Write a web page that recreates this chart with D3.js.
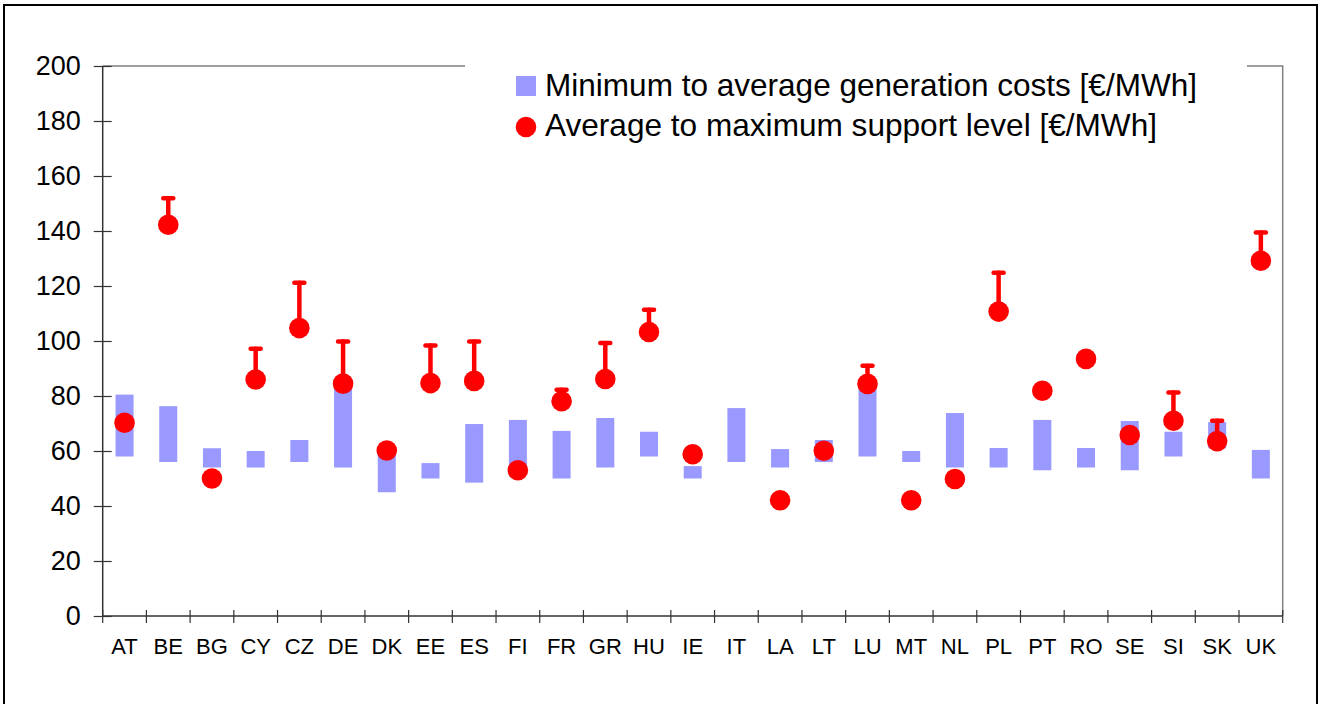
<!DOCTYPE html>
<html>
<head>
<meta charset="utf-8">
<script src="https://cdn.jsdelivr.net/npm/d3@7"></script>
<style>
  html, body { margin: 0; padding: 0; background: #fff; }
  svg text { font-family: "Liberation Sans", Arial, sans-serif; fill: #000; }
</style>
</head>
<body>
<script>
// Data
const categories = ['AT', 'BE', 'BG', 'CY', 'CZ', 'DE', 'DK', 'EE', 'ES', 'FI', 'FR', 'GR', 'HU', 'IE',
  'IT', 'LA', 'LT', 'LU', 'MT', 'NL', 'PL', 'PT', 'RO', 'SE', 'SI', 'SK', 'UK'];

// Minimum to average generation costs [€/MWh]
const costMin = [58, 56, 54, 54, 56, 54, 45, 50, 48.5, 54, 50, 54, 58, 50,
  56, 54, 56, 58, 56, 54, 54, 53, 54, 53, 58, 61, 50];
const costAvg = [80.5, 76.3, 61, 60, 64, 83.5, 59, 55.6, 69.8, 71.3, 67.3, 72, 67, 54.5,
  75.6, 60.7, 64, 83, 60, 73.8, 61.1, 71.3, 61.1, 70.9, 67, 70.5, 60.4];

// Average to maximum support level [€/MWh]
const supportAvg = [70.3, 142.3, 50, 86, 104.7, 84.5, 60.2, 84.7, 85.5, 53, 78.1, 86.2, 103.3, 58.8,
  null, 42.1, 60.1, 84.4, 42.1, 49.8, 110.7, 81.9, 93.5, 65.8, 71, 63.6, 129.2];
const supportMax = [null, 151.9, null, 97.2, 121.2, 99.8, null, 98.4, 99.8, null, 82.3, 99.3, 111.4, null,
  null, null, null, 91, null, null, 124.8, null, null, null, 81.3, 71, 139.5];

const yTicks = [0, 20, 40, 60, 80, 100, 120, 140, 160, 180, 200];
const legendLabels = ['Minimum to average generation costs [€/MWh]', 'Average to maximum support level [€/MWh]'];

const barColor = '#9999ff';
const dotColor = '#ff0000';

const width = 1320, height = 704;
const plot = { left: 102.7, right: 1282.7, top: 66, bottom: 616 };

const svg = d3.select('body')
  .append('svg')
  .attr('width', width)
  .attr('height', height);

// outer frame
svg.append('rect')
  .attr('x', 4).attr('y', 5)
  .attr('width', 1313).attr('height', 720)
  .attr('fill', '#fff')
  .attr('stroke', '#000')
  .attr('stroke-width', 2);

const x = d3.scaleBand()
  .domain(categories)
  .range([plot.left, plot.right])
  .padding(0);

const y = d3.scaleLinear()
  .domain([0, 200])
  .range([plot.bottom, plot.top]);

const rows = categories.map((c, i) => ({
  cat: c, lo: costMin[i], hi: costAvg[i], avg: supportAvg[i], max: supportMax[i]
}));

// top and right plot border
svg.append('path')
  .attr('d', `M${plot.left},${plot.top}H${plot.right}V${plot.bottom}`)
  .attr('fill', 'none')
  .attr('stroke', '#808080')
  .attr('stroke-width', 1.5);

// cost range bars
const barW = 18;
svg.append('g')
  .selectAll('rect')
  .data(rows)
  .join('rect')
  .attr('x', d => x(d.cat) + x.bandwidth() / 2 - barW / 2)
  .attr('y', d => y(d.hi))
  .attr('width', barW)
  .attr('height', d => y(d.lo) - y(d.hi))
  .attr('fill', barColor);

// support level error bars
const withMax = rows.filter(d => d.max != null && d.avg != null);
const err = svg.append('g')
  .attr('stroke', dotColor)
  .attr('stroke-width', 4.5)
  .attr('stroke-linecap', 'round');

err.selectAll('line.stem')
  .data(withMax)
  .join('line')
  .attr('class', 'stem')
  .attr('x1', d => x(d.cat) + x.bandwidth() / 2)
  .attr('x2', d => x(d.cat) + x.bandwidth() / 2)
  .attr('y1', d => y(d.avg))
  .attr('y2', d => y(d.max));

err.selectAll('line.cap')
  .data(withMax)
  .join('line')
  .attr('class', 'cap')
  .attr('x1', d => x(d.cat) + x.bandwidth() / 2 - 5)
  .attr('x2', d => x(d.cat) + x.bandwidth() / 2 + 5)
  .attr('y1', d => y(d.max))
  .attr('y2', d => y(d.max));

// support average dots
svg.append('g')
  .selectAll('circle')
  .data(rows.filter(d => d.avg != null))
  .join('circle')
  .attr('cx', d => x(d.cat) + x.bandwidth() / 2)
  .attr('cy', d => y(d.avg))
  .attr('r', 10.3)
  .attr('fill', dotColor);

// y axis with crossing ticks
const yAxis = svg.append('g')
  .attr('transform', `translate(${plot.left},0)`)
  .call(d3.axisLeft(y).tickValues(yTicks).tickSize(9).tickPadding(13));
yAxis.select('.domain').attr('stroke', '#333').attr('stroke-width', 1.5)
  .attr('d', `M0,${plot.top}V${plot.bottom}`);
yAxis.selectAll('.tick line').attr('x1', 9).attr('stroke', '#333').attr('stroke-width', 1.2);
yAxis.selectAll('.tick text')
  .style('font-size', '27px')
  .style('font-family', '"Liberation Sans", Arial, sans-serif');

// x axis: labels at band centres, crossing ticks at band edges
const xAxis = svg.append('g')
  .attr('transform', `translate(0,${plot.bottom})`)
  .call(d3.axisBottom(x).tickSize(0).tickPadding(22));
xAxis.select('.domain').attr('stroke', '#333').attr('stroke-width', 1.5)
  .attr('d', `M${plot.left},0H${plot.right}`);
xAxis.selectAll('.tick text')
  .style('font-size', '22px')
  .style('font-family', '"Liberation Sans", Arial, sans-serif');

const edges = categories.map(c => x(c)).concat([x.range()[1]]);
xAxis.append('g')
  .selectAll('line')
  .data(edges)
  .join('line')
  .attr('x1', d => d).attr('x2', d => d)
  .attr('y1', -6).attr('y2', 7)
  .attr('stroke', '#333')
  .attr('stroke-width', 1.2);

// legend (white box hides the top border behind it)
const legend = svg.append('g');
legend.append('rect')
  .attr('x', 465).attr('y', 55)
  .attr('width', 782).attr('height', 95)
  .attr('fill', '#fff');

const legendRows = [
  { label: legendLabels[0], len: 652, cy: 86, base: 96 },
  { label: legendLabels[1], len: 612, cy: 127, base: 136 }
];

legend.append('rect')
  .attr('x', 516).attr('y', legendRows[0].cy - 10)
  .attr('width', 20).attr('height', 20)
  .attr('fill', barColor);
legend.append('circle')
  .attr('cx', 526).attr('cy', legendRows[1].cy)
  .attr('r', 10.3)
  .attr('fill', dotColor);

legend.selectAll('text')
  .data(legendRows)
  .join('text')
  .attr('x', 545)
  .attr('y', d => d.base)
  .attr('textLength', d => d.len)
  .attr('lengthAdjust', 'spacingAndGlyphs')
  .style('font-size', '31.5px')
  .text(d => d.label);
</script>
</body>
</html>
